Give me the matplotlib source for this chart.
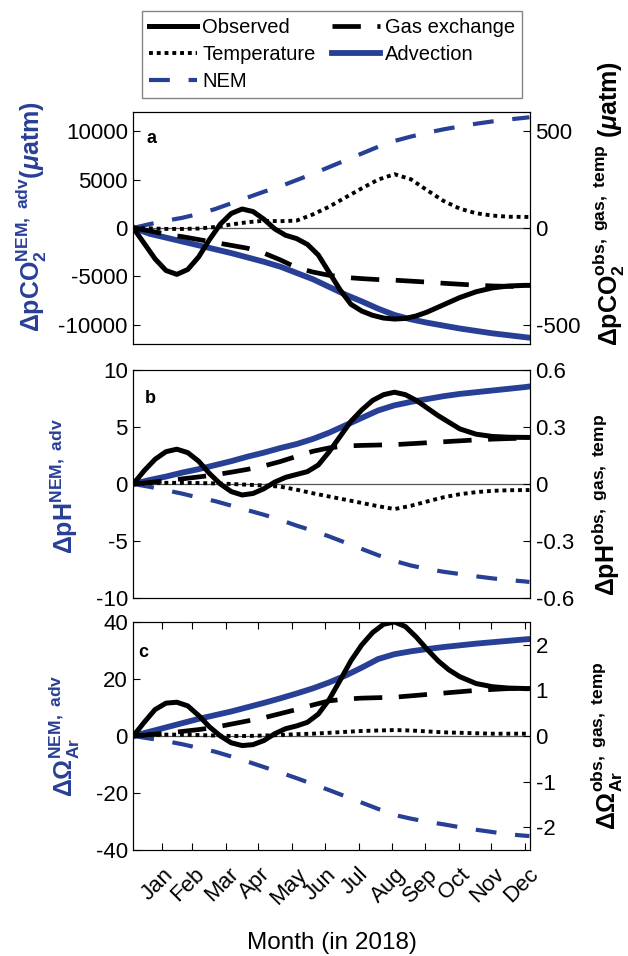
import matplotlib
matplotlib.use("Agg")
import matplotlib.pyplot as plt
import matplotlib.transforms as mtransforms
from matplotlib import ticker

plt.rcParams['font.family'] = ['Liberation Sans', 'DejaVu Sans']
plt.rcParams['mathtext.fontset'] = 'custom'
plt.rcParams['mathtext.rm'] = 'Liberation Sans:bold'
plt.rcParams['mathtext.bf'] = 'Liberation Sans:bold'
plt.rcParams['mathtext.it'] = 'Liberation Sans:italic:bold'
plt.rcParams['mathtext.default'] = 'bf'
plt.rcParams['axes.unicode_minus'] = False

# day of year 2018
day = [5, 20, 35, 50, 65, 80, 95, 110, 125, 140, 155, 170, 185, 200, 215,
       230, 245, 260, 275, 290, 305, 320, 335, 350, 365, 369]
day_obs = [5, 15, 25, 35, 45, 55, 65, 75, 85, 95, 105, 115, 125, 135, 145,
           155, 165, 175, 185, 195, 205, 215, 225, 235, 245, 255, 265, 275,
           285, 295, 305, 320, 335, 350, 365, 369]
month_ticks = [31, 59, 90, 120, 151, 181, 212, 243, 273, 304, 334, 365]
months = ['Jan', 'Feb', 'Mar', 'Apr', 'May', 'Jun', 'Jul', 'Aug', 'Sep',
          'Oct', 'Nov', 'Dec']

# (a) pCO2, uatm
adv_a = [0, -600, -1000, -1400, -1800, -2200, -2600, -3050, -3500, -4000,
         -4650, -5300, -6100, -6900, -7600, -8350, -9000, -9450, -9800,
         -10100, -10400, -10650, -10900, -11100, -11300, -11350]
nem_a = [0, 400, 750, 1050, 1450, 1950, 2550, 3150, 3750, 4300, 4950, 5600,
         6300, 7000, 7700, 8400, 9000, 9450, 9850, 10200, 10500, 10780,
         11020, 11220, 11400, 11450]
gas_a = [0, -15, -33, -45, -60, -75, -90, -105, -130, -165, -205, -228,
         -245, -256, -262, -267, -270, -275, -280, -286, -291, -296, -300,
         -302, -303, -303]
temp_a = [0, -2, -5, -5, -3, 5, 18, 30, 37, 35, 38, 70, 110, 158, 205, 250,
          278, 252, 195, 140, 100, 76, 64, 58, 57, 57]
obs_a = [0, -80, -160, -220, -240, -215, -150, -60, 20, 75, 98, 85, 45, -5,
         -38, -55, -85, -140, -230, -320, -395, -430, -452, -466, -471, -468,
         -455, -435, -410, -385, -360, -330, -310, -300, -297, -297]

# (b) pH
adv_b = [0, 0.35, 0.65, 1.0, 1.3, 1.65, 2.0, 2.4, 2.75, 3.15, 3.5, 3.95, 4.5,
         5.15, 5.8, 6.45, 6.9, 7.2, 7.45, 7.7, 7.9, 8.05, 8.2, 8.35, 8.5, 8.55]
nem_b = [0, -0.25, -0.55, -0.85, -1.2, -1.5, -1.9, -2.3, -2.7, -3.15, -3.65,
         -4.1, -4.6, -5.15, -5.7, -6.25, -6.75, -7.15, -7.45, -7.7, -7.9,
         -8.1, -8.28, -8.43, -8.55, -8.6]
gas_b = [0, 0.008, 0.017, 0.027, 0.037, 0.048, 0.062, 0.077, 0.095, 0.118,
         0.145, 0.172, 0.19, 0.2, 0.203, 0.205, 0.207, 0.212, 0.217, 0.222,
         0.227, 0.232, 0.236, 0.239, 0.241, 0.241]
temp_b = [0, 0.004, 0.006, 0.006, 0.005, 0.003, 0.0, -0.004, -0.008, -0.014,
          -0.03, -0.049, -0.066, -0.083, -0.1, -0.117, -0.132, -0.115, -0.092,
          -0.07, -0.054, -0.043, -0.036, -0.033, -0.032, -0.032]
obs_b = [0, 0.07, 0.13, 0.17, 0.183, 0.165, 0.12, 0.055, 0.0, -0.04, -0.058,
         -0.05, -0.025, 0.01, 0.035, 0.05, 0.065, 0.1, 0.17, 0.25, 0.33, 0.39,
         0.44, 0.47, 0.483, 0.47, 0.44, 0.40, 0.36, 0.325, 0.29, 0.262, 0.25,
         0.246, 0.245, 0.245]

# (c) aragonite saturation
adv_c = [0, 1.5, 3.0, 4.5, 6.0, 7.3, 8.6, 10.1, 11.6, 13.2, 14.9, 16.7, 18.8,
         21.2, 24.0, 27.0, 28.7, 29.7, 30.5, 31.2, 31.8, 32.4, 32.9, 33.4,
         33.9, 34.0]
nem_c = [0, -0.9, -1.8, -2.9, -4.2, -5.5, -7.2, -9.0, -10.9, -12.8, -14.8,
         -16.9, -19.0, -21.2, -23.4, -25.6, -27.7, -29.0, -30.1, -31.0, -32.0,
         -32.9, -33.7, -34.5, -35.0, -35.1]
gas_c = [0, 0.03, 0.06, 0.1, 0.14, 0.19, 0.26, 0.33, 0.4, 0.49, 0.58, 0.68,
         0.77, 0.81, 0.83, 0.84, 0.85, 0.88, 0.91, 0.94, 0.97, 1.0, 1.02, 1.04,
         1.05, 1.05]
temp_c = [0, 0.02, 0.03, 0.03, 0.02, 0.01, 0.0, 0.0, 0.01, 0.02, 0.04, 0.05,
          0.07, 0.09, 0.11, 0.12, 0.13, 0.12, 0.1, 0.08, 0.07, 0.06, 0.05,
          0.05, 0.05, 0.05]
obs_c = [0, 0.3, 0.58, 0.72, 0.74, 0.66, 0.45, 0.2, 0.0, -0.15, -0.21, -0.19,
         -0.1, 0.05, 0.16, 0.22, 0.3, 0.48, 0.8, 1.22, 1.65, 2.0, 2.27, 2.45,
         2.5, 2.4, 2.17, 1.9, 1.65, 1.45, 1.3, 1.15, 1.08, 1.05, 1.04, 1.04]

BLUE = '#283f96'

panels = [
    dict(letter='a', box=(0.6402, 0.2427), adv=adv_a, nem=nem_a, gas=gas_a,
         temp=temp_a, obs=obs_a, ylim=12000, ylim2=600,
         yt=[-10000, -5000, 0, 5000, 10000], yt2=[-500, 0, 500],
         lab=r'ΔpCO$_2^{NEM,\ adv}$($\mathit{\mu}$atm)',
         lab2=r'ΔpCO$_2^{obs,\ gas,\ temp}$ ($\mathit{\mu}$atm)',
         lx=(-0.212, 0.55), lx2=(1.152, 0.605), txy=(0.034, 0.866)),
    dict(letter='b', box=(0.3745, 0.2385), adv=adv_b, nem=nem_b, gas=gas_b,
         temp=temp_b, obs=obs_b, ylim=10, ylim2=0.6,
         yt=[-10, -5, 0, 5, 10], yt2=[-0.6, -0.3, 0, 0.3, 0.6],
         lab=r'ΔpH$^{NEM,\ adv}$',
         lab2=r'ΔpH$^{obs,\ gas,\ temp}$',
         lx=(-0.134, 0.49), lx2=(1.15, 0.41), txy=(0.029, 0.855)),
    dict(letter='c', box=(0.1109, 0.2385), adv=adv_c, nem=nem_c, gas=gas_c,
         temp=temp_c, obs=obs_c, ylim=40, ylim2=2.5,
         yt=[-40, -20, 0, 20, 40], yt2=[-2, -1, 0, 1, 2],
         lab=r'ΔΩ$_{Ar}^{NEM,\ adv}$',
         lab2=r'ΔΩ$_{Ar}^{obs,\ gas,\ temp}$',
         lx=(-0.129, 0.5), lx2=(1.147, 0.456), txy=(0.012, 0.846)),
]

fig = plt.figure(figsize=(6.28, 9.56), dpi=100)
left, width = 0.2123, 0.6316

for i, p in enumerate(panels):
    ax = fig.add_axes([left, p['box'][0], width, p['box'][1]])
    ax2 = ax.twinx()

    ax.axhline(0, color='#555555', lw=0.9, zorder=1)
    h_adv, = ax.plot(day, p['adv'], color=BLUE, lw=4.2)
    h_nem, = ax.plot(day, p['nem'], color=BLUE, lw=3.0, dashes=(5, 4.5))
    h_temp, = ax2.plot(day, p['temp'], color='k', lw=2.8, dashes=(1, 1))
    h_gas, = ax2.plot(day, p['gas'], color='k', lw=3.4, dashes=(6, 3.5))
    h_obs, = ax2.plot(day_obs, p['obs'], color='k', lw=3.6)

    ax.set_xlim(5, 369.5)
    ax.set_ylim(-p['ylim'], p['ylim'])
    ax2.set_ylim(-p['ylim2'], p['ylim2'])
    ax.set_yticks(p['yt'])
    ax2.set_yticks(p['yt2'])
    ax2.yaxis.set_major_formatter(ticker.FormatStrFormatter('%g'))

    ax.tick_params(axis='y', direction='in', length=5, labelsize=16, pad=4)
    ax2.tick_params(axis='y', direction='in', length=5, labelsize=16, pad=4)

    if p['letter'] == 'c':
        ax.set_xticks(month_ticks)
        ax.set_xticklabels(months, rotation=45, ha='center')
        ax.tick_params(axis='x', direction='in', length=5, top=True,
                       labelsize=16, pad=10)
        off = mtransforms.ScaledTranslation(-4 / 100, 0, fig.dpi_scale_trans)
        for lbl in ax.get_xticklabels():
            lbl.set_transform(lbl.get_transform() + off)
    else:
        ax.tick_params(axis='x', bottom=False, labelbottom=False)

    ax.set_ylabel(p['lab'], color=BLUE, fontsize=18, fontweight='bold')
    ax.yaxis.set_label_coords(*p['lx'])
    ax2.set_ylabel(p['lab2'], color='k', fontsize=18, fontweight='bold')
    ax2.yaxis.set_label_coords(*p['lx2'])

    ax.text(p['txy'][0], p['txy'][1], p['letter'], transform=ax.transAxes,
            fontsize=13, fontweight='bold', va='baseline')

    if i == 0:
        handles = [h_obs, h_temp, h_nem, h_gas, h_adv]
        labels = ['Observed', 'Temperature', 'NEM', 'Gas exchange', 'Advection']

fig.legend(handles, labels, ncol=2, loc='upper left',
           bbox_to_anchor=(141.7 / 628, 1 - 11 / 956), frameon=True,
           fancybox=False, edgecolor='#666666', fontsize=14.5,
           handlelength=2.4, handletextpad=0.25, columnspacing=0.8,
           labelspacing=0.4, borderpad=0.35, borderaxespad=0)

fig.text(331.6 / 628, 1 - 943 / 956, 'Month (in 2018)', ha='center',
         va='center', fontsize=17.5)

fig.savefig('out.png', dpi=100)
